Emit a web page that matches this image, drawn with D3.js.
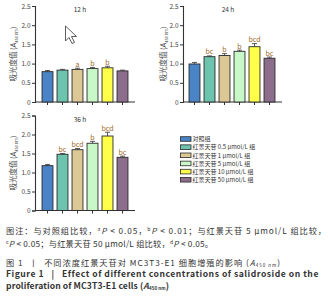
<!DOCTYPE html>
<html><head><meta charset="utf-8">
<script src="https://cdn.jsdelivr.net/npm/d3@7"></script>
<style>
html,body{margin:0;padding:0;background:#fff;}
svg{display:block;}
text{font-family:"Noto Sans CJK SC","Lato",sans-serif;}
</style></head>
<body>
<svg id="c" width="328" height="300"></svg>
<script>
const categories = ["对照组","红景天苷 0.5 μmol/L 组","红景天苷 1 μmol/L 组","红景天苷 5 μmol/L 组","红景天苷 10 μmol/L 组","红景天苷 50 μmol/L 组"];
const colors = ["#4a84c6","#6cc4ae","#dcc894","#c8f8c8","#ffff4a","#8c6e8c"];
const timeLabels = ["12 h","24 h","36 h"];
const yTicks = [0,0.5,1.0,1.5,2.0,2.5];
const values12 = [0.79,0.83,0.85,0.87,0.89,0.81];
const err12 = [0.03,0.02,0.03,0.03,0.04,0.02];
const sig12 = ["","","a","b","b",""];
const values24 = [0.99,1.18,1.21,1.32,1.44,1.14];
const err24 = [0.04,0.02,0.05,0.03,0.08,0.03];
const sig24 = ["","bc","b","b","bcd","bc"];
const values36 = [1.18,1.48,1.60,1.77,1.96,1.40];
const err36 = [0.03,0.02,0.03,0.05,0.10,0.03];
const sig36 = ["","bc","bcd","b","bcd","bc"];

const svg = d3.select("#c");
const panels = [
  {label:timeLabels[0], v:values12, e:err12, s:sig12, ax:35, x0:40, top:6, bot:102, lx:16},
  {label:timeLabels[1], v:values24, e:err24, s:sig24, ax:183, x0:187, top:6, bot:102, lx:166},
  {label:timeLabels[2], v:values36, e:err36, s:sig36, ax:35, x0:40, top:115.5, bot:210.5, lx:16}
];
const dark = "#333";
panels.forEach(p => {
  const g = svg.append("g");
  const x = d3.scaleBand().domain(categories).range([p.x0, p.x0+90]).paddingInner(0.27).paddingOuter(0.135);
  const y = d3.scaleLinear().domain([0,2.5]).range([p.bot, p.top]);
  const ya = g.append("g").attr("transform",`translate(${p.ax},0)`)
    .call(d3.axisLeft(y).tickValues(yTicks).tickFormat(d => d===0?"0":d3.format(".1f")(d)).tickSize(3).tickPadding(1.5));
  ya.select(".domain").attr("stroke",dark).attr("stroke-width",1.1);
  ya.selectAll(".tick line").attr("stroke",dark);
  ya.selectAll("text").attr("font-size",6.5).attr("fill","#444").attr("font-family","Lato, sans-serif");
  const xa = g.append("g").attr("transform",`translate(0,${p.bot})`)
    .call(d3.axisBottom(x).tickSize(3).tickFormat(""));
  xa.select(".domain").attr("d",`M${p.ax},0H${p.x0+95}`).attr("stroke",dark).attr("stroke-width",1.1);
  xa.selectAll(".tick line").attr("stroke",dark);
  g.selectAll("rect.bar").data(categories).enter().append("rect")
    .attr("x", d => x(d)).attr("width", x.bandwidth())
    .attr("y", (d,i) => y(p.v[i])).attr("height", (d,i) => p.bot - y(p.v[i]))
    .attr("fill", (d,i) => colors[i]).attr("stroke","#2a2a2a").attr("stroke-width",0.9);
  categories.forEach((d,i) => {
    const cx = x(d) + x.bandwidth()/2;
    g.append("line").attr("x1",cx).attr("x2",cx).attr("y1",y(p.v[i])).attr("y2",y(p.v[i]+p.e[i])).attr("stroke",dark).attr("stroke-width",0.8);
    g.append("line").attr("x1",cx-2.5).attr("x2",cx+2.5).attr("y1",y(p.v[i]+p.e[i])).attr("y2",y(p.v[i]+p.e[i])).attr("stroke",dark).attr("stroke-width",0.8);
    if (p.s[i]) g.append("text").attr("x",cx).attr("y",y(p.v[i]+p.e[i])-1.5).attr("text-anchor","middle")
      .attr("font-size",7).attr("fill","#a0671c").attr("font-family","Lato, sans-serif").text(p.s[i]);
  });
  g.append("text").attr("x",p.ax+45).attr("y",p.top+6).attr("text-anchor","middle").attr("font-size",6.5)
    .attr("fill","#333").attr("font-family","Lato, sans-serif").text(p.label);
  const yl = g.append("text").attr("transform",`translate(${p.lx},${(p.top+p.bot)/2}) rotate(-90)`)
    .attr("text-anchor","middle").attr("font-size",7.5).attr("fill","#444");
  yl.append("tspan").text("吸光度值 (");
  yl.append("tspan").attr("font-style","italic").attr("font-family","Lato, sans-serif").text("A");
  yl.append("tspan").attr("font-size",4).attr("dy",1.5).text("450 nm");
  yl.append("tspan").attr("dy",-1.5).text(")");
});

svg.append("path").attr("transform","translate(65.5,26)")
  .attr("d","M0,0 L0,15 L3.5,11.5 L6.5,17.5 L9,16.3 L6,10.5 L11,10.5 Z")
  .attr("fill","#fff").attr("stroke","#333").attr("stroke-width",0.8);

const leg = svg.append("g");
categories.forEach((c,i) => {
  const yy = 139 + i*8.15;
  leg.append("rect").attr("x",180.5).attr("y",yy-2.3).attr("width",10.5).attr("height",4.6)
    .attr("fill",colors[i]).attr("stroke","#2a2a2a").attr("stroke-width",0.8);
  leg.append("text").attr("x",192.5).attr("y",yy+2.2).attr("font-size",6).attr("fill","#333").text(c);
});

function fit(t, target) {
  const n = t.node();
  const w = n.getComputedTextLength();
  const chars = n.textContent.length;
  if (chars > 1) t.attr("letter-spacing", ((target - w) / (chars - 1)).toFixed(3));
}
const cap = svg.append("g").attr("fill","#333");
const c1 = cap.append("text").attr("x",6).attr("y",233.5).attr("font-size",8.2);
c1.append("tspan").text("图注：与对照组比较，");
c1.append("tspan").attr("font-size",5).attr("dy",-3).text("a");
c1.append("tspan").attr("dy",3).attr("font-style","italic").text("P");
c1.append("tspan").text(" < 0.05，");
c1.append("tspan").attr("font-size",5).attr("dy",-3).text("b");
c1.append("tspan").attr("dy",3).attr("font-style","italic").text("P");
c1.append("tspan").text(" < 0.01；与红景天苷 5 μmol/L 组比较，");
fit(c1, 320);
const c2 = cap.append("text").attr("x",6).attr("y",246.5).attr("font-size",8.2);
c2.append("tspan").attr("font-size",5).attr("dy",-3).text("c");
c2.append("tspan").attr("dy",3).attr("font-style","italic").text("P");
c2.append("tspan").text(" < 0.05；与红景天苷 50 μmol/L 组比较，");
c2.append("tspan").attr("font-size",5).attr("dy",-3).text("d");
c2.append("tspan").attr("dy",3).attr("font-style","italic").text("P");
c2.append("tspan").text(" < 0.05。");
fit(c2, 207);

const c3 = cap.append("text").attr("x",6).attr("y",265.5).attr("font-size",8.2).style("white-space","pre");
c3.append("tspan").text("图 1  丨  不同浓度红景天苷对 MC3T3-E1 细胞增殖的影响 (");
c3.append("tspan").attr("font-style","italic").text("A");
c3.append("tspan").attr("font-size",4.5).attr("dy",1.8).text("450 nm");
c3.append("tspan").attr("dy",-1.8).text(")");
fit(c3, 274);
const c4 = cap.append("text").attr("x",6).attr("y",277).attr("font-size",8.6).attr("font-weight","bold").attr("font-family","Lato, sans-serif").style("white-space","pre");
c4.text("Figure 1   |   Effect of different concentrations of salidroside on the");
fit(c4, 312);
const c5 = cap.append("text").attr("x",6).attr("y",288.5).attr("font-size",8.6).attr("font-weight","bold").attr("font-family","Lato, sans-serif");
c5.append("tspan").text("proliferation of MC3T3-E1 cells (");
c5.append("tspan").attr("font-style","italic").text("A");
c5.append("tspan").attr("font-size",4.5).attr("dy",1.8).text("450 nm");
c5.append("tspan").attr("dy",-1.8).text(")");
fit(c5, 163);
</script>
</body></html>
